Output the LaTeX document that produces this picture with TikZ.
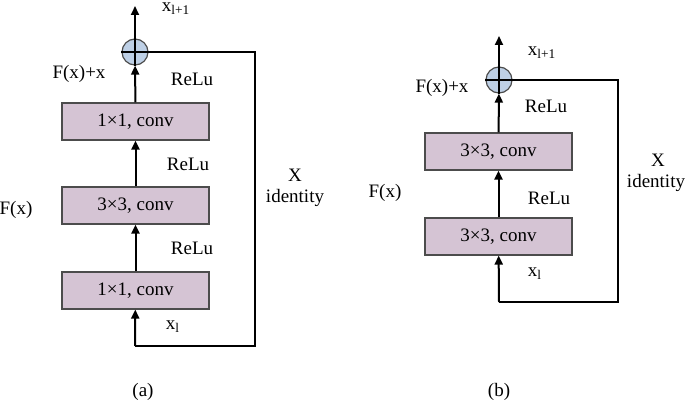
\documentclass[tikz,border=0pt]{standalone}
\usepackage{fontspec}
\setmainfont{Liberation Serif}
\usetikzlibrary{arrows.meta}
\usetikzlibrary{positioning}
\usepackage{xcolor}

\definecolor{boxpink}{RGB}{213,196,212}
\definecolor{sumblue}{RGB}{190,208,230}

\tikzset{
  convbox/.style={draw=black!70, fill=boxpink, minimum width=73.5pt,
    minimum height=18.5pt, inner sep=0pt, line width=0.6pt},
  sumnode/.style={circle, draw=black!70, fill=sumblue, minimum size=13pt,
    inner sep=0pt, line width=0.6pt},
  lbl/.style={inner sep=0pt},
  wire/.style={line width=1pt},
}

\begin{document}
\begin{tikzpicture}[x=0.5pt, y=-0.5pt, >={Triangle[length=4.5pt,width=4pt]},
  every node/.style={font=\fontsize{9.5}{11}\selectfont}]

\useasboundingbox (0,0) rectangle (685,401);

% (a) bottleneck block
\node [convbox] (a-conv1) at (135.5,121.5) {1×1, conv};
\node [convbox] (a-conv2) at (135.5,205.5) {3×3, conv};
\node [convbox] (a-conv3) at (135.5,290.5) {1×1, conv};
\node [sumnode] (a-sum) at (135,52) {};

\coordinate (a-out) at (135,6);
\coordinate (a-in) at (135,346);
\coordinate (a-corner) at (255,346);

\draw [wire,->] (a-in) -- (a-conv3);
\draw [wire,->] (a-conv3) -- (a-conv2);
\draw [wire,->] (a-conv2) -- (a-conv1);
\draw [wire,->] (a-conv1) -- (a-sum);
\draw [wire,->] (a-sum.south) -- (a-out);
\draw [wire] (a-sum.west) -- (a-sum.east) -| (a-corner) -- (a-in);

\node [lbl] (a-xout) at (176,9) {x\textsubscript{l+1}};
\node [lbl] (a-fxx) at (79,74) {F(x)+x};
\node [lbl] (a-relu1) at (192,79) {ReLu};
\node [lbl] (a-relu2) at (188,164) {ReLu};
\node [lbl] (a-relu3) at (192,248) {ReLu};
\node [lbl] (a-fx) at (16,210) {F(x)};
\node [lbl] (a-xin) at (173,327) {x\textsubscript{l}};
\node [lbl] (a-x) at (295,175) {X};
\node [lbl] (a-id) at (295,198) {identity};
\node [lbl] (a-cap) at (143,392) {(a)};

% (b) basic block
\node [convbox] (b-conv1) at (498.5,151.5) {3×3, conv};
\node [convbox] (b-conv2) at (498.5,236.5) {3×3, conv};
\node [sumnode] (b-sum) at (499,80) {};

\coordinate (b-out) at (499,36);
\coordinate (b-in) at (499,302);
\coordinate (b-corner) at (618,302);

\draw [wire,->] (b-in) -- (b-conv2);
\draw [wire,->] (b-conv2) -- (b-conv1);
\draw [wire,->] (b-conv1) -- (b-sum);
\draw [wire,->] (b-sum.south) -- (b-out);
\draw [wire] (b-sum.west) -- (b-sum.east) -| (b-corner) -- (b-in);

\node [lbl] (b-xout) at (542,53) {x\textsubscript{l+1}};
\node [lbl] (b-fxx) at (442,88) {F(x)+x};
\node [lbl] (b-relu1) at (546,106) {ReLu};
\node [lbl] (b-relu2) at (549,198) {ReLu};
\node [lbl] (b-fx) at (385,193) {F(x)};
\node [lbl] (b-xin) at (535,274) {x\textsubscript{l}};
\node [lbl] (b-x) at (658,160) {X};
\node [lbl] (b-id) at (656,183) {identity};
\node [lbl] (b-cap) at (499,392) {(b)};

\end{tikzpicture}
\end{document}
